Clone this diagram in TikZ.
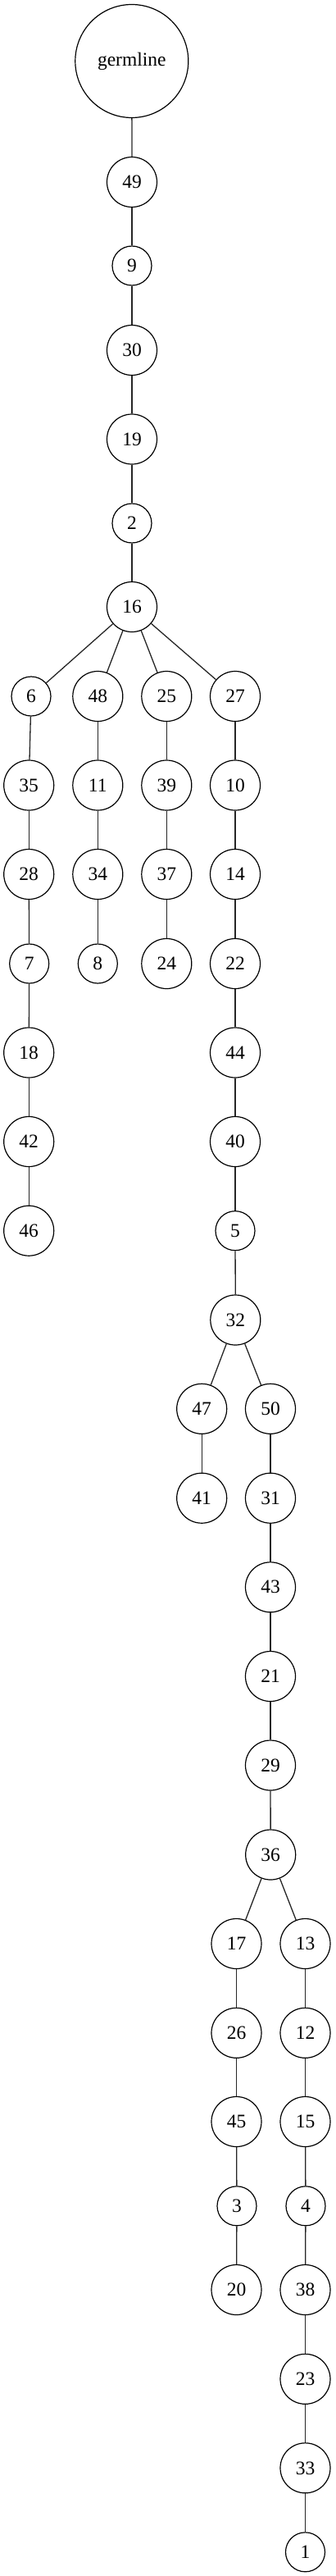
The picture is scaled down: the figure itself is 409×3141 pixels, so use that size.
\documentclass[tikz,border=0pt]{standalone}
\usepackage{fontspec}
\setmainfont{Liberation Serif}
\usetikzlibrary{positioning}
\tikzset{
  %% 克隆节点：两位数 / 一位数 / 根
  clnode/.style={circle,draw=black,line width=0.6pt,inner sep=0pt,
                 minimum size=30.5pt,font=\fontsize{11.75}{14}\selectfont},
  clsmall/.style={clnode,minimum size=24pt},
  clroot/.style={clnode,minimum size=69pt},
  %% 连线
  cledge/.style={draw=black!85,line width=0.65pt},
}
\begin{document}
\begin{tikzpicture}[x=0.5pt,y=-0.5pt]
    \useasboundingbox (0,0) rectangle (409,3141);
    %% ── 主干：germline → 16 ──────────────────────────────
    \node[clroot]  (germ) at (160.8,  74.5) {germline};
    \node[clnode]  (n49)  at (161,   222)   {49};
    \node[clsmall] (n9)   at (161,   324)   {9};
    \node[clnode]  (n30)  at (161,   427)   {30};
    \node[clnode]  (n19)  at (161,   535.5) {19};
    \node[clsmall] (n2)   at (161,   638)   {2};
    \node[clnode]  (n16)  at (161,   740)   {16};

    \draw[cledge] (germ) -- (n49);
    \draw[cledge] (n49) -- (n9);
    \draw[cledge] (n9) -- (n30);
    \draw[cledge] (n30) -- (n19);
    \draw[cledge] (n19) -- (n2);
    \draw[cledge] (n2) -- (n16);

    %% ── 16 的四个分支 ─────────────────────────────────────
    \node[clsmall] (n6)  at (38,    849) {6};
    \node[clnode]  (n48) at (119.3, 849) {48};
    \node[clnode]  (n25) at (203.3, 849) {25};
    \node[clnode]  (n27) at (287,   849) {27};

    \draw[cledge] (n16) -- (n6);
    \draw[cledge] (n16) -- (n48);
    \draw[cledge] (n16) -- (n25);
    \draw[cledge] (n16) -- (n27);

    %% 左支：6 → 46
    \node[clnode]  (n35) at (35.2,  957.5) {35};
    \node[clnode]  (n28) at (35.2, 1066)   {28};
    \node[clsmall] (n7)  at (35.7, 1175)   {7};
    \node[clnode]  (n18) at (35.2, 1283.5) {18};
    \node[clnode]  (n42) at (35.2, 1392)   {42};
    \node[clnode]  (n46) at (35.2, 1500.7) {46};

    \draw[cledge] (n6) -- (n35);
    \draw[cledge] (n35) -- (n28);
    \draw[cledge] (n28) -- (n7);
    \draw[cledge] (n7) -- (n18);
    \draw[cledge] (n18) -- (n42);
    \draw[cledge] (n42) -- (n46);

    %% 48 → 8, 25 → 24
    \node[clnode]  (n11) at (119.3,  957.5) {11};
    \node[clnode]  (n34) at (119.3, 1066)   {34};
    \node[clsmall] (n8)  at (119.3, 1175)   {8};
    \node[clnode]  (n39) at (203.3,  957.5) {39};
    \node[clnode]  (n37) at (203.3, 1066)   {37};
    \node[clnode]  (n24) at (203.3, 1175)   {24};

    \draw[cledge] (n48) -- (n11);
    \draw[cledge] (n11) -- (n34);
    \draw[cledge] (n34) -- (n8);
    \draw[cledge] (n25) -- (n39);
    \draw[cledge] (n39) -- (n37);
    \draw[cledge] (n37) -- (n24);

    %% 右支：27 → 32
    \node[clnode]  (n10) at (287,    957.5) {10};
    \node[clnode]  (n14) at (287,   1066)   {14};
    \node[clnode]  (n22) at (287,   1175)   {22};
    \node[clnode]  (n44) at (287,   1283.5) {44};
    \node[clnode]  (n40) at (287,   1392)   {40};
    \node[clsmall] (n5)  at (287,   1500.7) {5};
    \node[clnode]  (n32) at (287.3, 1609.5) {32};

    \draw[cledge] (n27) -- (n10);
    \draw[cledge] (n10) -- (n14);
    \draw[cledge] (n14) -- (n22);
    \draw[cledge] (n22) -- (n44);
    \draw[cledge] (n44) -- (n40);
    \draw[cledge] (n40) -- (n5);
    \draw[cledge] (n5) -- (n32);

    %% ── 32 的两个分支 ─────────────────────────────────────
    \node[clnode] (n47) at (246.2, 1717.8) {47};
    \node[clnode] (n50) at (330,   1717.8) {50};
    \node[clnode] (n41) at (246.2, 1826.7) {41};
    \node[clnode] (n31) at (330,   1826.7) {31};
    \node[clnode] (n43) at (330,   1935.3) {43};
    \node[clnode] (n21) at (330,   2044)   {21};
    \node[clnode] (n29) at (330,   2152.5) {29};
    \node[clnode] (n36) at (330.2, 2261.5) {36};

    \draw[cledge] (n32) -- (n47);
    \draw[cledge] (n32) -- (n50);
    \draw[cledge] (n47) -- (n41);
    \draw[cledge] (n50) -- (n31);
    \draw[cledge] (n31) -- (n43);
    \draw[cledge] (n43) -- (n21);
    \draw[cledge] (n21) -- (n29);
    \draw[cledge] (n29) -- (n36);

    %% ── 36 的两个分支 ─────────────────────────────────────
    \node[clnode]  (n17) at (288.5, 2370)   {17};
    \node[clnode]  (n26) at (288.5, 2478.8) {26};
    \node[clnode]  (n45) at (288.5, 2587)   {45};
    \node[clsmall] (n3)  at (289,   2689.8) {3};
    \node[clnode]  (n20) at (288.5, 2792)   {20};

    \node[clnode]  (n13) at (372.5, 2370)   {13};
    \node[clnode]  (n12) at (372.5, 2478.8) {12};
    \node[clnode]  (n15) at (372.5, 2587)   {15};
    \node[clsmall] (n4)  at (373,   2689.8) {4};
    \node[clnode]  (n38) at (372.5, 2792)   {38};
    \node[clnode]  (n23) at (372.5, 2900.8) {23};
    \node[clnode]  (n33) at (372.5, 3009.3) {33};
    \node[clsmall] (n1)  at (372.5, 3111.8) {1};

    \draw[cledge] (n36) -- (n17);
    \draw[cledge] (n36) -- (n13);
    \draw[cledge] (n17) -- (n26);
    \draw[cledge] (n26) -- (n45);
    \draw[cledge] (n45) -- (n3);
    \draw[cledge] (n3) -- (n20);
    \draw[cledge] (n13) -- (n12);
    \draw[cledge] (n12) -- (n15);
    \draw[cledge] (n15) -- (n4);
    \draw[cledge] (n4) -- (n38);
    \draw[cledge] (n38) -- (n23);
    \draw[cledge] (n23) -- (n33);
    \draw[cledge] (n33) -- (n1);
  \end{tikzpicture}
\end{document}
